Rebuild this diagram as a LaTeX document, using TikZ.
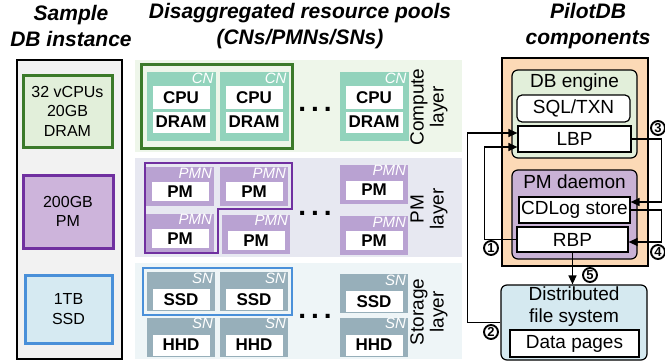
\documentclass[tikz,border=0pt]{standalone}
\usepackage{fontspec}
\setmainfont{Liberation Sans}
\usetikzlibrary{arrows.meta}

\definecolor{panelgray}{HTML}{F2F2F2}
\definecolor{specgreen}{HTML}{E2EFDA}
\definecolor{darkgreen}{HTML}{3B7A2A}
\definecolor{specpurple}{HTML}{CDB4DB}
\definecolor{darkpurple}{HTML}{7030A0}
\definecolor{specblue}{HTML}{D6EAF2}
\definecolor{midblue}{HTML}{4A90D9}
\definecolor{computebg}{HTML}{EEF6EA}
\definecolor{pmbg}{HTML}{E7E8F1}
\definecolor{storagebg}{HTML}{EEF5F7}
\definecolor{cnfill}{HTML}{92D3BC}
\definecolor{pmnfill}{HTML}{B9A2D2}
\definecolor{snfill}{HTML}{97AFBA}
\definecolor{peach}{HTML}{FCD9B6}
\definecolor{pmdfill}{HTML}{C9B2D5}
\definecolor{dfsfill}{HTML}{D5E9F0}

\begin{document}
\begin{tikzpicture}[x=1pt,y=-1pt,
  heading/.style={font=\fontsize{21}{26}\selectfont\bfseries\itshape, align=center, inner sep=0},
  spec/.style={font=\fontsize{16}{19.5}\selectfont, align=center, inner sep=0, line width=3pt},
  layerlbl/.style={font=\fontsize{19}{20}\selectfont, align=center, rotate=90, inner sep=0},
  cn/.style={fill=cnfill, minimum width=69pt, minimum height=69pt, inner sep=0},
  pmn/.style={fill=pmnfill, minimum width=68pt, minimum height=39pt, inner sep=0},
  sn/.style={fill=snfill, minimum width=68pt, minimum height=39pt, inner sep=0},
  res/.style={fill=white, minimum width=57pt, minimum height=21pt, inner sep=0, font=\fontsize{17}{17}\selectfont\bfseries},
  tag/.style={font=\fontsize{15}{15}\selectfont\itshape, text=white, inner sep=0, anchor=north east},
  dots/.style={font=\fontsize{28}{28}\selectfont\bfseries, inner sep=0},
  part/.style={draw, line width=1.2pt, rounded corners=6pt, inner sep=0},
  comp/.style={draw, fill=white, line width=1.2pt, inner sep=0, font=\fontsize{19}{19}\selectfont},
  title/.style={font=\fontsize{19}{22}\selectfont, align=center, inner sep=0},
  flow/.style={line width=1.3pt, -{Triangle[length=9pt,width=8pt]}},
  num/.style={circle, draw, line width=1.9pt, fill=white, inner sep=0, minimum size=14pt, font=\fontsize{13}{13}\selectfont\bfseries}]
\useasboundingbox (0,0) rectangle (665,364);

% column headings
\node[heading] (hsample) at (71,26) {Sample\\DB instance};
\node[heading] (hpools) at (300,26) {Disaggregated resource pools\\(CNs/PMNs/SNs)};
\node[heading] (hpilot) at (588,26) {PilotDB\\components};

% sample instance
\node[draw, fill=panelgray, line width=1.2pt, minimum width=105pt, minimum height=299pt] (inst) at (69.5,209.5) {};
\node[spec, draw=darkgreen, fill=specgreen, minimum width=89pt, minimum height=72pt] (vm) at (67.5,111) {32 vCPUs\\20GB\\DRAM};
\node[spec, draw=darkpurple, fill=specpurple, minimum width=90pt, minimum height=73pt] (pmsize) at (68,211.5) {200GB\\PM};
\node[spec, draw=midblue, fill=specblue, minimum width=87pt, minimum height=68pt] (ssdsize) at (68.5,309) {1TB\\SSD};

% layer bands
\fill[computebg] (135,60) rectangle (462,152);
\fill[pmbg] (135,158) rectangle (462,257);
\fill[storagebg] (135,263) rectangle (462,359);
\node[layerlbl] (lcompute) at (429,107) {Compute\\layer};
\node[layerlbl] (lpm) at (429,209) {PM\\layer};
\node[layerlbl] (lstorage) at (429,312) {Storage\\layer};

% compute nodes
\node[cn] (cn1) at (181,106.5) {}; \node[tag] at ([shift={(-2pt,-1pt)}]cn1.north east) {CN};
\node[res, minimum height=23pt] (cpu1) at (181,97.5) {CPU}; \node[res] (dram1) at (181,122) {DRAM};
\node[cn] (cn2) at (254,106.5) {}; \node[tag] at ([shift={(-2pt,-1pt)}]cn2.north east) {CN};
\node[res, minimum height=23pt] (cpu2) at (254,97.5) {CPU}; \node[res] (dram2) at (254,122) {DRAM};
\node[cn] (cn3) at (374,106.5) {}; \node[tag] at ([shift={(-2pt,-1pt)}]cn3.north east) {CN};
\node[res, minimum height=23pt] (cpu3) at (374,97.5) {CPU}; \node[res] (dram3) at (374,122) {DRAM};
\draw[darkgreen, line width=3pt] (141,64) rectangle (292,148);
\node[dots] (cdots) at (315,109) {.\hspace{5pt}.\hspace{5pt}.};

% PM nodes
\node[pmn] (pmn1) at (180,186.5) {}; \node[tag] at ([shift={(-2pt,-1pt)}]pmn1.north east) {PMN};
\node[res, minimum height=19pt] (pm1) at (180,191.5) {PM};
\node[pmn] (pmn2) at (254,186.5) {}; \node[tag] at ([shift={(-2pt,-1pt)}]pmn2.north east) {PMN};
\node[res, minimum height=19pt] (pm2) at (254,191.5) {PM};
\node[pmn] (pmn3) at (180,233) {}; \node[tag] at ([shift={(-2pt,-1pt)}]pmn3.north east) {PMN};
\node[res, minimum height=19pt] (pm3) at (180,238.5) {PM};
\node[pmn] (pmn4) at (256,234) {}; \node[tag] at ([shift={(-2pt,-1pt)}]pmn4.north east) {PMN};
\node[res, minimum height=19pt] (pm4) at (256,240.5) {PM};
\node[pmn] (pmn5) at (374,184) {}; \node[tag] at ([shift={(-2pt,-1pt)}]pmn5.north east) {PMN};
\node[res, minimum height=19pt] (pm5) at (374,190) {PM};
\node[pmn] (pmn6) at (374,235.5) {}; \node[tag] at ([shift={(-2pt,-1pt)}]pmn6.north east) {PMN};
\node[res, minimum height=19pt] (pm6) at (374,240.5) {PM};
\draw[darkpurple, line width=2.5pt] (145,163) -- (292,163) -- (292,209) -- (218,209) -- (218,253) -- (145,253) -- cycle;
\node[dots] (pdots) at (315,213) {.\hspace{5pt}.\hspace{5pt}.};

% storage nodes
\node[sn] (sn1) at (181,291.5) {}; \node[tag] at ([shift={(-2pt,-1pt)}]sn1.north east) {SN};
\node[res] (ssd1) at (181,299.5) {SSD};
\node[sn] (sn2) at (254,291.5) {}; \node[tag] at ([shift={(-2pt,-1pt)}]sn2.north east) {SN};
\node[res] (ssd2) at (254,299.5) {SSD};
\node[sn] (sn3) at (181,337) {}; \node[tag] at ([shift={(-2pt,-1pt)}]sn3.north east) {SN};
\node[res] (hhd1) at (181,345) {HHD};
\node[sn] (sn4) at (254,337) {}; \node[tag] at ([shift={(-2pt,-1pt)}]sn4.north east) {SN};
\node[res] (hhd2) at (254,345) {HHD};
\node[sn] (sn5) at (374,293.5) {}; \node[tag] at ([shift={(-2pt,-1pt)}]sn5.north east) {SN};
\node[res] (ssd3) at (374,301.5) {SSD};
\node[sn] (sn6) at (374,337) {}; \node[tag] at ([shift={(-2pt,-1pt)}]sn6.north east) {SN};
\node[res] (hhd3) at (374,345) {HHD};
\draw[midblue, line width=2.2pt] (143,268) rectangle (292,315);
\node[dots] (sdots) at (315,316) {.\hspace{5pt}.\hspace{5pt}.};

% PilotDB components
\node[draw, fill=peach, line width=1.2pt, minimum width=146pt, minimum height=208pt] (pilot) at (575,162) {};
\node[part, fill=specgreen, minimum width=125pt, minimum height=88pt] (engine) at (574.5,114) {};
\node[title] (tengine) at (574.5,83) {DB engine};
\node[comp, rounded corners=5pt, minimum width=113pt, minimum height=27pt] (sql) at (573.5,108.5) {SQL/TXN};
\node[comp, minimum width=113pt, minimum height=26pt] (lbp) at (574.5,139) {LBP};
\node[part, fill=pmdfill, minimum width=125pt, minimum height=89pt] (daemon) at (574.5,214.5) {};
\node[title] (tdaemon) at (574.5,182) {PM daemon};
\node[comp, minimum width=111pt, minimum height=26pt] (cdlog) at (574.5,210) {CDLog store};
\node[comp, minimum width=111pt, minimum height=25pt] (rbp) at (572.5,239.5) {RBP};
\node[part, fill=dfsfill, minimum width=146pt, minimum height=75pt] (dfs) at (574,322.5) {};
\node[title] (tdfs) at (574,307) {Distributed\\file system};
\node[comp, minimum width=129pt, minimum height=27pt] (pages) at (574.5,343.5) {Data pages};

% data paths
\draw[flow] (rbp.west) -- ++(-32,0) |- ([yshift=-8pt]lbp.west);
\node[num] (n1) at (491,248) {1};
\draw[flow] (dfs.west) -- ++(-33,0) |- ([yshift=6pt]lbp.west);
\node[num] (n2) at (491,332) {2};
\draw[flow] (lbp.east) -- ++(30,0) |- ([yshift=8pt]cdlog.east);
\node[num] (n3) at (658,128) {3};
\draw[flow] (cdlog.east) -- ++(31,0) |- ([yshift=-2.5pt]rbp.east);
\node[num] (n4) at (658,252) {4};
\draw[flow] (rbp.south) -- (rbp.south |- dfs.north);
\node[num] (n5) at (590,275) {5};
\end{tikzpicture}
\end{document}
